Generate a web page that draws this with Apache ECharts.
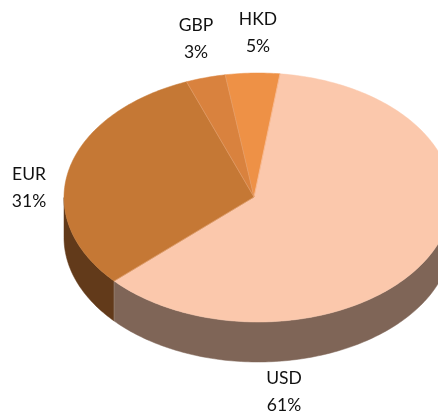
<!DOCTYPE html>
<html>
<head>
<meta charset="utf-8">
<style>html,body{margin:0;padding:0;background:#fff}#c{width:438px;height:414px}</style>
<script src="https://cdn.jsdelivr.net/npm/echarts@6/dist/echarts.min.js"></script>
</head>
<body>
<div id="c"></div>
<script>
const categories = ['USD', 'EUR', 'GBP', 'HKD'];
const shares = [61.49, 30.7, 3.3, 4.51];

const topColors = ['#FBC8AC', '#C57835', '#D9823E', '#EE9146'];
const wallColors = ['#7F6557', '#623A1A', '#6E4420', '#7F4C24'];
const labelCentres = [[284, 392], [29, 188], [196, 39], [258, 32.5]];
const geo = { cx: 258, cy: 197.5, ax: 254, ay: 197, rx: 194, ry: 124.5, depth: 40, start: 6.5 };

const total = shares.reduce((a, b) => a + b, 0);
function span(i) {
  let a = geo.start;
  for (let k = 0; k < i; k++) a += shares[k] / total * 360;
  return [a, a + shares[i] / total * 360];
}
function rim(deg, dy) {
  const t = deg * Math.PI / 180;
  return [geo.cx + geo.rx * Math.sin(t), geo.cy + dy - geo.ry * Math.cos(t)];
}
function arc(a, b, dy) {
  const pts = [];
  const n = Math.max(2, Math.ceil(Math.abs(b - a)));
  for (let j = 0; j <= n; j++) pts.push(rim(a + (b - a) * j / n, dy));
  return pts;
}
function wallItem(params) {
  const i = params.dataIndex;
  const [a, b] = span(i);
  const lo = Math.max(a, 90), hi = Math.min(b, 270);
  if (hi <= lo) return { type: 'group', children: [] };
  const pts = arc(lo, hi, 0).concat(arc(hi, lo, geo.depth));
  const children = [{ type: 'polygon', shape: { points: pts },
    style: { fill: wallColors[i], stroke: wallColors[i], lineWidth: 0.5 } }];
  if (a > 90 && a < 270) {
    const p = rim(a, 0), q = rim(a, geo.depth);
    children.push({ type: 'line', z2: 5, shape: { x1: p[0], y1: p[1], x2: q[0], y2: q[1] },
      style: { stroke: '#a89a90', lineWidth: 0.6 } });
  }
  return { type: 'group', children };
}
function topItem(params) {
  const i = params.dataIndex;
  const [a, b] = span(i);
  const pts = [[geo.ax, geo.ay]].concat(arc(a, b, 0));
  const p = rim(a, 0);
  return { type: 'group', children: [
    { type: 'polygon', shape: { points: pts },
      style: { fill: topColors[i], stroke: topColors[i], lineWidth: 0.5 } },
    { type: 'line', z2: 5, shape: { x1: geo.ax, y1: geo.ay, x2: p[0], y2: p[1] },
      style: { stroke: i === 0 ? topColors[0] : '#E0A06E', lineWidth: 0.6 } }
  ] };
}
function labelItem(params) {
  const i = params.dataIndex;
  const c = labelCentres[i];
  return { type: 'text', x: c[0], y: c[1],
    style: { text: categories[i] + '\n' + Math.round(shares[i] / total * 100) + '%',
      fill: '#111', font: '17.5px Lato', align: 'center', verticalAlign: 'middle', lineHeight: 27 } };
}
const rows = categories.map((c, i) => [c, shares[i]]);
const chart = echarts.init(document.getElementById('c'), null, { renderer: 'canvas' });
chart.setOption({
  animation: false,
  backgroundColor: '#fff',
  series: [
    { type: 'custom', coordinateSystem: 'none', data: rows, renderItem: wallItem, silent: true, z: 1 },
    { type: 'custom', coordinateSystem: 'none', data: rows, renderItem: topItem, silent: true, z: 2 },
    { type: 'custom', coordinateSystem: 'none', data: rows, renderItem: labelItem, silent: true, z: 3 }
  ]
});
</script>
</body>
</html>
